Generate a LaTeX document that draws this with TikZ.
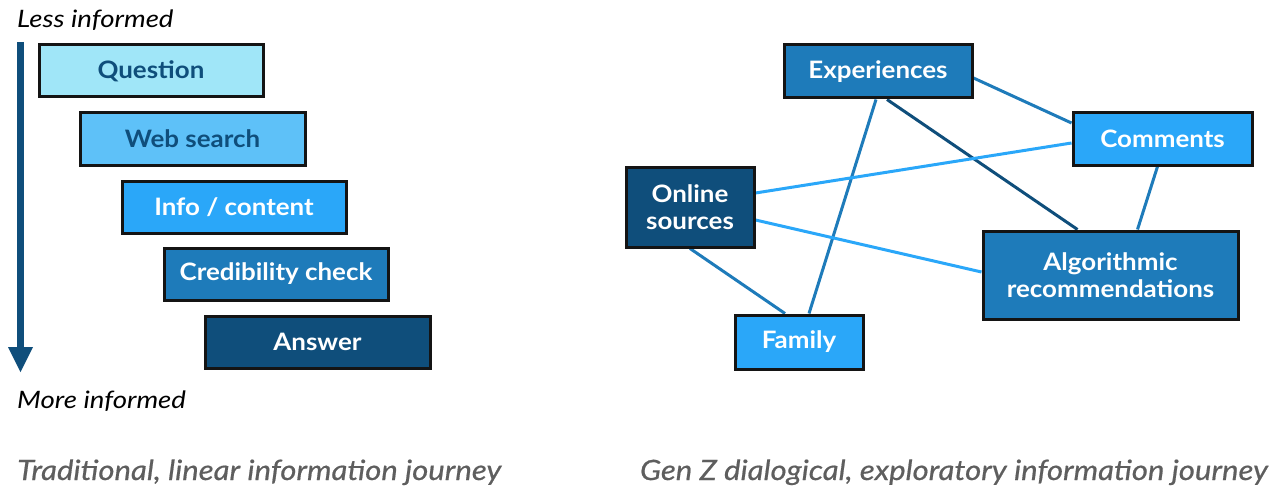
\documentclass[tikz,border=0pt]{standalone}
\usepackage{fontspec}
\setmainfont{Lato}
\newfontfamily\boxfont[FakeStretch=1.08]{Lato}
\newfontfamily\labfont[FakeStretch=1.15]{Lato}
\newfontfamily\capfont[FakeStretch=1.11,FakeBold=0.6]{Lato}
\usetikzlibrary{backgrounds}
\definecolor{cA}{HTML}{A0E6F8}
\definecolor{cB}{HTML}{5EC1F8}
\definecolor{cC}{HTML}{2AA7F9}
\definecolor{cD}{HTML}{1E7BBA}
\definecolor{cE}{HTML}{0F4E7B}
\definecolor{capgray}{HTML}{5E5E5E}
\tikzset{
  box/.style={draw=black!92, line width=3pt, inner sep=0pt, align=center,
    font=\boxfont\fontsize{24}{27}\selectfont\bfseries, text=white},
  lab/.style={anchor=base west, inner sep=0pt, font=\labfont\fontsize{24}{27}\selectfont\itshape},
  captext/.style={anchor=base west, inner sep=0pt, font=\capfont\fontsize{28}{32}\selectfont\itshape, text=capgray},
  link/.style={line width=3pt},
}
\begin{document}
\begin{tikzpicture}[x=1pt,y=-1pt]
\useasboundingbox (0,0) rectangle (1276,492);
% left column
\node[box, fill=cA, text=cE, minimum width=224, minimum height=52] (q) at (151,71) {Question};
\node[box, fill=cB, text=cE, minimum width=225, minimum height=52] (ws) at (192.5,139) {Web search};
\node[box, fill=cC, minimum width=224, minimum height=52] (ic) at (234,207) {Info / content};
\node[box, fill=cD, minimum width=224, minimum height=52] (cc) at (276,274) {Credibility check};
\node[box, fill=cE, minimum width=225, minimum height=52] (an) at (317.5,342) {Answer};
\node[lab] (less) at (17,28) {Less informed};
\node[lab] (more) at (17,408) {More informed};
\node[captext] (capl) at (17,480) {Traditional, linear information journey};
\coordinate (atop) at (20.5,42);
\coordinate (abase) at (20.5,348);
\coordinate (al) at (8,347);
\coordinate (ar) at (33,347);
\coordinate (atip) at (20.5,372);
\draw[cE, line width=7pt] (atop) -- (abase);
\fill[cE] (al) -- (ar) -- (atip) -- cycle;
% right network
\node[box, fill=cD, minimum width=188, minimum height=53] (exp) at (878,71.5) {Experiences};
\node[box, fill=cC, minimum width=179, minimum height=52] (com) at (1162.5,139) {Comments};
\node[box, fill=cE, minimum width=128, minimum height=80] (onl) at (690,207) {Online\\sources};
\node[box, fill=cD, minimum width=255, minimum height=88] (alg) at (1110.5,275) {Algorithmic\\recommendations};
\node[box, fill=cC, minimum width=128, minimum height=54] (fam) at (799,342) {Family};
\node[captext, anchor=base east] (capr) at (1268,480) {Gen Z dialogical, exploratory information journey};
\begin{scope}[on background layer]
\draw[link, cD] ([yshift=-6.5pt]exp.east) -- ([yshift=16pt]com.west);
\draw[link, cD] ([xshift=-2pt]exp.south) -- ([xshift=10pt]fam.north);
\draw[link, cE] ([xshift=9pt]exp.south) -- ([xshift=-33pt]alg.north);
\draw[link, cD] ([xshift=-5pt]com.south) -- ([xshift=27pt]alg.north);
\draw[link, cC] ([yshift=14pt]onl.east) -- ([yshift=-4pt]com.west);
\draw[link, cC] ([yshift=-13pt]onl.east) -- ([yshift=3pt]alg.west);
\draw[link, cD] (onl.south) -- ([xshift=-14pt]fam.north);
\end{scope}
\end{tikzpicture}
\end{document}
